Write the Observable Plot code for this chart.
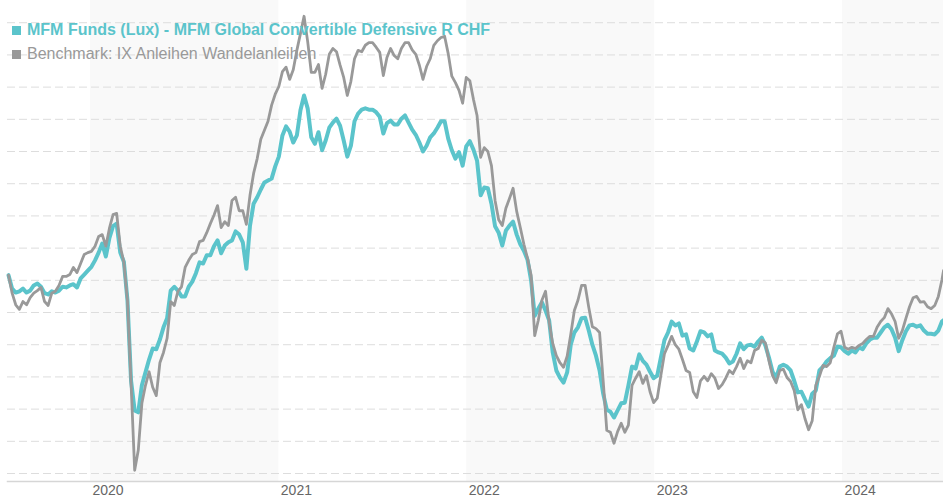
<!DOCTYPE html>
<html>
<head>
<meta charset="utf-8">
<script src="https://cdn.jsdelivr.net/npm/d3@7"></script>
<script src="https://cdn.jsdelivr.net/npm/@observablehq/plot@0.6"></script>
<style>
  html, body { margin: 0; padding: 0; background: #fff; }
  #wrap { position: relative; width: 943px; height: 500px; font-family: "Liberation Sans", Arial, sans-serif; }
  #legend { position: absolute; left: 12px; top: 18px; font-size: 16px; line-height: 24px; white-space: nowrap; }
  #legend .sq { display: inline-block; width: 9px; height: 9px; margin-right: 6px; vertical-align: 0px; }
  #legend .fund { color: #5bc4cb; font-weight: bold; }
  #legend .bench { color: #999999; }
</style>
</head>
<body>
<div id="wrap">
  <div id="chart"></div>
  <div id="legend"></div>
</div>
<script>
// Series names
const seriesNames = ["MFM Funds (Lux) - MFM Global Convertible Defensive R CHF", "Benchmark: IX Anleihen Wandelanleihen"];
const seriesColors = ["#5bc4cb", "#999999"];

// Weekly observation dates
const dates = [
"2019-07-26","2019-08-02","2019-08-09","2019-08-16","2019-08-23","2019-08-30","2019-09-06","2019-09-13","2019-09-20","2019-09-27",
"2019-10-04","2019-10-11","2019-10-18","2019-10-25","2019-11-01","2019-11-08","2019-11-15","2019-11-22","2019-11-29","2019-12-06",
"2019-12-13","2019-12-20","2019-12-27",
"2020-01-03","2020-01-10","2020-01-17","2020-01-24","2020-01-31","2020-02-07","2020-02-14","2020-02-21","2020-02-28","2020-03-06",
"2020-03-13","2020-03-20","2020-03-27","2020-04-03","2020-04-10","2020-04-17","2020-04-24","2020-05-01","2020-05-08","2020-05-15",
"2020-05-22","2020-05-29","2020-06-05","2020-06-12","2020-06-19","2020-06-26","2020-07-03","2020-07-10","2020-07-17","2020-07-24",
"2020-07-31","2020-08-07","2020-08-14","2020-08-21","2020-08-28","2020-09-04","2020-09-11","2020-09-18","2020-09-25","2020-10-02",
"2020-10-09","2020-10-16","2020-10-23","2020-10-30","2020-11-06","2020-11-13","2020-11-20","2020-11-27","2020-12-04","2020-12-11",
"2020-12-18","2020-12-25",
"2021-01-01","2021-01-08","2021-01-15","2021-01-22","2021-01-29","2021-02-05","2021-02-12","2021-02-19","2021-02-26","2021-03-05",
"2021-03-12","2021-03-19","2021-03-26","2021-04-02","2021-04-09","2021-04-16","2021-04-23","2021-04-30","2021-05-07","2021-05-14",
"2021-05-21","2021-05-28","2021-06-04","2021-06-11","2021-06-18","2021-06-25","2021-07-02","2021-07-09","2021-07-16","2021-07-23",
"2021-07-30","2021-08-06","2021-08-13","2021-08-20","2021-08-27","2021-09-03","2021-09-10","2021-09-17","2021-09-24","2021-10-01",
"2021-10-08","2021-10-15","2021-10-22","2021-10-29","2021-11-05","2021-11-12","2021-11-19","2021-11-26","2021-12-03","2021-12-10",
"2021-12-17","2021-12-24","2021-12-31",
"2022-01-07","2022-01-14","2022-01-21","2022-01-28","2022-02-04","2022-02-11","2022-02-18","2022-02-25","2022-03-04","2022-03-11",
"2022-03-18","2022-03-25","2022-04-01","2022-04-08","2022-04-15","2022-04-22","2022-04-29","2022-05-06","2022-05-13","2022-05-20",
"2022-05-27","2022-06-03","2022-06-10","2022-06-17","2022-06-24","2022-07-01","2022-07-08","2022-07-15","2022-07-22","2022-07-29",
"2022-08-05","2022-08-12","2022-08-19","2022-08-26","2022-09-02","2022-09-09","2022-09-16","2022-09-23","2022-09-30","2022-10-07",
"2022-10-14","2022-10-21","2022-10-28","2022-11-04","2022-11-11","2022-11-18","2022-11-25","2022-12-02","2022-12-09","2022-12-16",
"2022-12-23","2022-12-30",
"2023-01-06","2023-01-13","2023-01-20","2023-01-27","2023-02-03","2023-02-10","2023-02-17","2023-02-24","2023-03-03","2023-03-10",
"2023-03-17","2023-03-24","2023-03-31","2023-04-07","2023-04-14","2023-04-21","2023-04-28","2023-05-05","2023-05-12","2023-05-19",
"2023-05-26","2023-06-02","2023-06-09","2023-06-16","2023-06-23","2023-06-30","2023-07-07","2023-07-14","2023-07-21","2023-07-28",
"2023-08-04","2023-08-11","2023-08-18","2023-08-25","2023-09-01","2023-09-08","2023-09-15","2023-09-22","2023-09-29","2023-10-06",
"2023-10-13","2023-10-20","2023-10-27","2023-11-03","2023-11-10","2023-11-17","2023-11-24","2023-12-01","2023-12-08","2023-12-15",
"2023-12-22","2023-12-29",
"2024-01-05","2024-01-12","2024-01-19","2024-01-26","2024-02-02","2024-02-09","2024-02-16","2024-02-23","2024-03-01","2024-03-08",
"2024-03-15","2024-03-22","2024-03-29","2024-04-05","2024-04-12","2024-04-19","2024-04-26","2024-05-03","2024-05-10","2024-05-17",
"2024-05-24","2024-05-31","2024-06-07","2024-06-14","2024-06-21","2024-06-28","2024-07-05","2024-07-12","2024-07-15"
];

// Fund (teal) index values
const fundValues = [
100.8, 98.7, 98.1, 98.3, 98.7, 98.1, 98.4, 99.2, 99.5, 99.0,
98.0, 97.8, 98.3, 98.1, 98.4, 99.0, 98.9, 99.2, 99.4, 98.9,
100.3, 100.9, 101.5, 102.1, 103.1, 104.3, 105.7, 103.7, 106.6, 108.4,
108.8, 104.3, 102.9, 96.9, 84.4, 79.8, 79.5, 83.7, 85.7, 87.7,
89.4, 89.3, 90.8, 92.7, 94.1, 98.4, 99.0, 98.4, 97.5, 97.5,
99.0, 99.8, 101.1, 102.8, 102.6, 103.9, 103.9, 105.3, 106.2, 104.2,
105.4, 105.9, 106.2, 107.6, 107.1, 105.9, 101.8, 108.5, 111.9, 112.9,
114.1, 115.2, 115.5, 115.8, 117.7, 119.2, 122.5, 123.9, 123.1, 121.4,
122.5, 126.4, 128.7, 126.7, 122.2, 121.2, 123.0, 120.2, 121.7, 123.7,
124.5, 125.1, 124.0, 121.7, 119.2, 120.9, 124.7, 125.9, 126.5, 126.7,
126.5, 126.5, 126.1, 125.4, 122.8, 124.4, 124.8, 124.2, 124.2, 125.1,
125.6, 124.5, 123.4, 122.6, 121.4, 120.0, 120.9, 122.2, 122.8, 123.7,
124.7, 124.7, 122.0, 120.2, 118.9, 119.9, 117.8, 120.8, 121.6, 120.3,
118.6, 113.2, 114.4, 114.3, 111.9, 108.4, 107.4, 105.4, 107.7, 108.5,
109.1, 107.1, 105.6, 104.6, 103.2, 100.0, 94.5, 95.6, 96.6, 95.3,
93.8, 88.8, 86.0, 84.9, 84.1, 85.7, 90.0, 91.9, 92.7, 94.1,
94.2, 92.2, 90.0, 88.3, 86.0, 82.4, 79.9, 79.6, 78.7, 79.8,
80.9, 81.0, 83.7, 86.6, 86.3, 88.5, 87.5, 86.9, 85.8, 84.8,
85.2, 88.0, 90.7, 91.9, 93.6, 93.0, 93.3, 91.4, 91.6, 89.4,
89.1, 90.5, 92.1, 91.9, 91.3, 91.6, 89.1, 88.8, 88.6, 88.0,
87.1, 87.4, 88.6, 90.2, 89.3, 89.9, 90.0, 89.7, 90.5, 91.1,
89.9, 88.0, 85.8, 84.9, 86.6, 86.9, 86.6, 86.0, 84.4, 82.6,
82.7, 81.5, 80.4, 82.4, 82.9, 86.0, 86.6, 87.4, 87.9, 88.3,
89.7, 89.6, 89.0, 88.6, 89.1, 88.8, 89.6, 89.3, 90.2, 90.8,
91.1, 91.1, 91.9, 92.7, 93.1, 92.4, 91.1, 89.0, 90.7, 92.1,
93.0, 93.1, 92.8, 93.0, 92.2, 91.7, 91.7, 91.6, 92.2, 93.6,
93.8
];

// Benchmark (grey) index values
const benchValues = [
100.8, 98.0, 96.2, 95.5, 96.7, 96.2, 97.3, 98.0, 98.4, 98.9,
96.7, 96.1, 98.0, 98.3, 99.2, 100.6, 100.6, 100.9, 102.0, 101.2,
102.6, 104.0, 104.3, 104.5, 105.3, 106.8, 107.1, 105.3, 108.1, 110.2,
110.4, 105.3, 102.8, 96.9, 84.0, 70.5, 73.6, 80.9, 83.7, 85.8,
83.4, 82.1, 87.2, 88.8, 91.0, 96.7, 96.1, 98.3, 99.0, 102.0,
103.1, 104.0, 104.3, 106.0, 106.2, 107.4, 108.8, 110.1, 111.6, 108.2,
109.1, 108.5, 112.4, 112.9, 110.8, 110.8, 108.7, 113.2, 116.6, 118.9,
121.9, 123.3, 124.7, 127.2, 128.9, 130.1, 132.4, 133.1, 131.2, 132.7,
135.7, 138.3, 141.0, 137.1, 132.3, 132.3, 133.5, 129.8, 132.0, 135.1,
136.0, 135.5, 133.4, 131.5, 128.7, 130.9, 134.4, 135.7, 135.5, 136.5,
136.9, 136.9, 136.2, 135.4, 131.8, 134.6, 136.0, 134.9, 134.4, 136.0,
136.9, 136.9, 135.8, 135.1, 133.4, 131.2, 133.2, 134.4, 136.5, 137.2,
137.7, 137.9, 135.2, 131.7, 130.7, 129.5, 127.5, 131.5, 131.0, 128.1,
125.6, 119.1, 120.6, 120.0, 117.8, 112.4, 109.4, 108.5, 111.2, 112.7,
114.3, 110.7, 108.2, 105.6, 103.4, 100.8, 91.4, 93.8, 96.9, 98.3,
93.5, 90.2, 88.3, 87.2, 86.5, 88.2, 91.6, 95.3, 96.9, 99.2,
99.2, 95.8, 92.8, 92.5, 91.9, 84.4, 76.7, 76.4, 74.7, 76.5,
77.8, 76.4, 77.5, 83.7, 84.8, 85.8, 84.0, 85.2, 82.7, 81.0,
81.7, 85.2, 88.6, 89.9, 91.3, 90.0, 89.3, 87.7, 86.0, 85.7,
82.7, 81.8, 84.4, 85.1, 84.4, 85.5, 84.8, 83.2, 83.8, 84.8,
86.0, 85.5, 86.6, 87.9, 86.3, 87.5, 87.2, 89.1, 89.4, 90.7,
90.3, 87.5, 85.2, 84.1, 86.0, 86.2, 84.9, 84.3, 82.9, 79.9,
80.7, 78.5, 76.8, 78.2, 83.7, 85.1, 86.8, 86.6, 87.2, 89.6,
91.7, 92.1, 89.6, 89.3, 89.6, 89.4, 89.9, 90.2, 90.8, 91.3,
91.3, 92.7, 93.6, 94.2, 95.6, 94.8, 93.6, 91.0, 92.2, 94.1,
95.9, 97.3, 97.5, 96.6, 96.7, 95.9, 95.6, 96.1, 97.5, 100.1,
101.5
];

// Alternate-year shaded bands
const bandStarts = ["2020-01-01", "2022-01-01", "2024-01-01"];
const bandEnds = ["2021-01-01", "2023-01-01", "2024-07-15"];

// Axis ticks and grid
const yearTicks = ["2020-01-01", "2021-01-01", "2022-01-01", "2023-01-01", "2024-01-01"];
const gridValues = [70, 75, 80, 85, 90, 95, 100, 105, 110, 115, 120, 125, 130, 135, 140];
const xDomain = ["2019-07-24", "2024-07-15"];
const yDomain = [68.76, 143.45];

const rows = dates.map((d, i) => ({date: new Date(d), fund: fundValues[i], bench: benchValues[i]}));
const bands = bandStarts.map((s, i) => ({start: new Date(s), end: new Date(bandEnds[i])}));

const chart = Plot.plot({
  width: 943,
  height: 500,
  marginTop: 0,
  marginBottom: 19,
  marginLeft: 7,
  marginRight: 0,
  style: {fontFamily: '"Liberation Sans", Arial, sans-serif', background: "#ffffff", overflow: "visible"},
  x: {type: "utc", domain: xDomain.map(d => new Date(d))},
  y: {domain: yDomain, axis: null},
  marks: [
    Plot.rect(bands, {x1: "start", x2: "end", fill: "#f9f9f9"}),
    Plot.ruleY(gridValues, {stroke: "#dddddd", strokeWidth: 1, strokeDasharray: "8,4"}),
    Plot.frame({anchor: "bottom", stroke: "#d6d6d6", strokeWidth: 1.5}),
    Plot.axisX(yearTicks.map(d => new Date(d)), {
      tickSize: 0, tickPadding: 4, textAnchor: "start", dx: 2,
      fontSize: 14, fill: "#666666", tickFormat: d3.utcFormat("%Y")
    }),
    Plot.line(rows, {x: "date", y: "fund", stroke: seriesColors[0], strokeWidth: 4, strokeLinejoin: "round"}),
    Plot.line(rows, {x: "date", y: "bench", stroke: seriesColors[1], strokeWidth: 2.8, strokeLinejoin: "round"})
  ]
});
document.getElementById("chart").appendChild(chart);

const legend = document.getElementById("legend");
legend.innerHTML = seriesNames.map((name, i) =>
  `<div class="${i === 0 ? "fund" : "bench"}"><span class="sq" style="background:${seriesColors[i]}"></span>${name}</div>`
).join("");
</script>
</body>
</html>
